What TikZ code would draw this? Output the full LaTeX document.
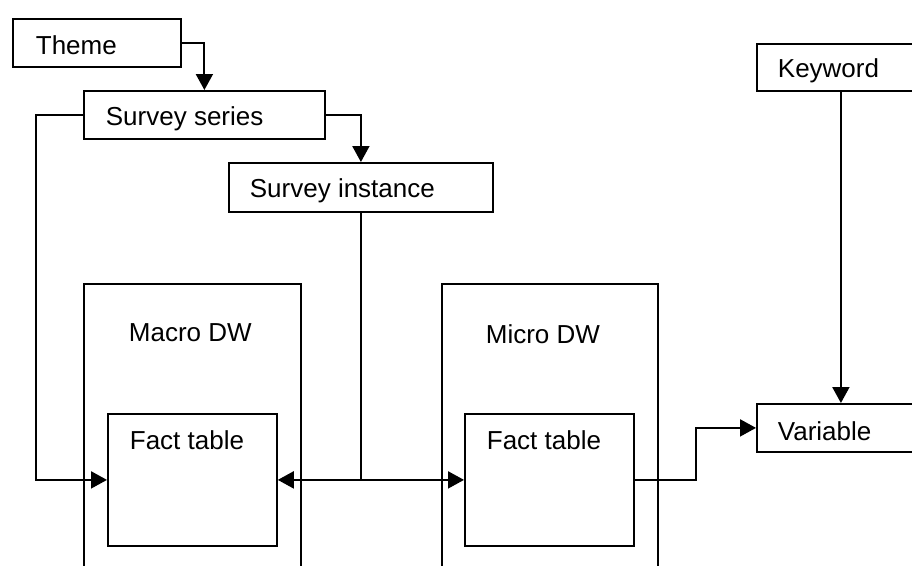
\documentclass[tikz,border=0pt]{standalone}
\usepackage{fontspec}
\setmainfont{Liberation Sans}
\usetikzlibrary{arrows.meta}
\begin{document}
\begin{tikzpicture}[x=1pt,y=-1pt, line width=1.8pt,
 box/.style={draw, line width=1.8pt, rectangle, inner sep=0pt, anchor=north west},
 lbl/.style={anchor=base west, inner sep=0pt, font=\fontsize{26}{30}\selectfont},
 conn/.style={draw, line width=2pt},
 arr/.style={conn, -{Triangle[length=16pt,width=17pt]}}]
\useasboundingbox (0,0) rectangle (912,565);
\clip (0,0) rectangle (912,565);
% boxes
\node[box, minimum width=168, minimum height=48] (theme) at (12,18) {};
\node[box, minimum width=241, minimum height=48] (sseries) at (83,90) {};
\node[box, minimum width=264, minimum height=49] (sinst) at (228,162) {};
\node[box, minimum width=168, minimum height=47] (keyword) at (756,43) {};
\node[box, minimum width=217, minimum height=300] (macro) at (83,283) {};
\node[box, minimum width=169, minimum height=132] (macrofact) at (107,413) {};
\node[box, minimum width=216, minimum height=300] (micro) at (441,283) {};
\node[box, minimum width=169, minimum height=132] (microfact) at (464,413) {};
\node[box, minimum width=168, minimum height=48] (var) at (756,403) {};
% labels
\node[lbl] (tTheme) at (35,54) {Theme};
\node[lbl] (tSeries) at (105,125) {Survey series};
\node[lbl] (tInst) at (249,197) {Survey instance};
\node[lbl] (tKey) at (777,77) {Keyword};
\node[lbl] (tMacro) at (128,341) {Macro DW};
\node[lbl] (tMacroF) at (129,449) {Fact table};
\node[lbl] (tMicro) at (485,343) {Micro DW};
\node[lbl] (tMicroF) at (486,449) {Fact table};
\node[lbl] (tVar) at (777,440) {Variable};
% connectors
\draw[arr] (theme.east) -| (sseries.north);
\draw[arr] (sseries.west) -- ++(-47,0) |- (macrofact.west);
\draw[arr] (sseries.east) -| (sinst.north);
\coordinate (j) at (sinst.south |- macrofact.east);
\draw[conn] (sinst.south) -- (j);
\draw[arr] (j) -- (macrofact.east);
\draw[arr] (j) -- (microfact.west);
\draw[arr] (microfact.east) -- ++(61,0) |- (var.west);
\draw[arr] (keyword.south) -- (var.north);
\end{tikzpicture}
\end{document}
